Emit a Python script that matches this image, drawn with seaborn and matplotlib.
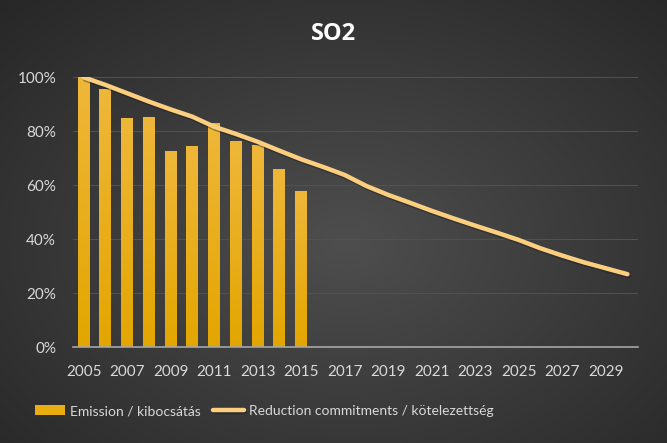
import numpy as np
import pandas as pd
import matplotlib.pyplot as plt
import matplotlib.patheffects as pe
import seaborn as sns

# data
years = [str(y) for y in range(2005, 2031)]
emission = [1.00, 0.956, 0.850, 0.854, 0.728, 0.745, 0.832, 0.765, 0.749, 0.661, 0.578] + [np.nan] * 15
commitment = [1.00, 0.972, 0.941, 0.910, 0.881, 0.854, 0.817, 0.790, 0.761, 0.728, 0.696,
              0.668, 0.638, 0.597, 0.564, 0.535, 0.505, 0.477, 0.450, 0.424, 0.397,
              0.366, 0.339, 0.314, 0.292, 0.270]
tick_years = years[::2][:13]

df = pd.DataFrame({'Year': years, 'Emission': emission, 'Commitment': commitment})

sns.set_theme(style="dark")
plt.rcParams['font.family'] = ['Lato', 'DejaVu Sans']

fig = plt.figure(figsize=(6.67, 4.43), dpi=100)

# dark radial background
bg = fig.add_axes([0, 0, 1, 1], zorder=-10)
yy, xx = np.mgrid[0:1:300j, 0:1:450j]
r = np.sqrt(((xx - 0.52) / 0.75) ** 2 + ((yy - 0.45) / 0.8) ** 2)
bg.imshow(np.clip(r, 0, 1), cmap=sns.blend_palette(['#4e4e4e', '#262626'], as_cmap=True),
          extent=[0, 1, 0, 1], aspect='auto', origin='lower', vmin=0, vmax=1)
bg.axis('off')

ax = fig.add_axes([0.109, 0.2167, 0.848, 0.6088])
ax.set_facecolor('none')

sns.barplot(data=df, x='Year', y='Emission', color='#E9AD12', saturation=1, width=0.55, ax=ax,
            label='Emission / kibocsátás', zorder=2, linewidth=0, edgecolor='none')

# vertical gold gradient on each bar
grad = np.linspace(0, 1, 100).reshape(-1, 1)
bar_cmap = sns.blend_palette(['#E3A600', '#EFB73A'], as_cmap=True)
for p in ax.patches:
    h = p.get_height()
    if np.isnan(h) or h == 0:
        continue
    x0 = p.get_x()
    im = ax.imshow(grad, cmap=bar_cmap, extent=[x0, x0 + p.get_width(), 0, h],
                   aspect='auto', origin='lower', zorder=2.5)
    im.set_clip_path(p)

sns.lineplot(data=df, x='Year', y='Commitment', color='#FCCF80', linewidth=3.2, ax=ax,
             label='Reduction commitments / kötelezettség', zorder=3,
             path_effects=[pe.SimpleLineShadow(offset=(1, -1.5), alpha=0.4), pe.Normal()])
ax.lines[-1].set_solid_capstyle('round')

ax.set_xlim(-0.5, 25.5)
ax.set_ylim(0, 1.0)
ax.set_yticks([0, 0.2, 0.4, 0.6, 0.8, 1.0])
ax.set_yticklabels(['0%', '20%', '40%', '60%', '80%', '100%'])
ax.set_xticks(range(0, 26, 2))
ax.set_xticklabels(tick_years)
ax.tick_params(axis='both', colors='#D9D9D9', labelsize=11, length=0)
ax.tick_params(axis='x', pad=13)
ax.tick_params(axis='y', pad=12)
ax.set_xlabel('')
ax.set_ylabel('')

ax.yaxis.grid(True, color='#525252', linewidth=0.7)
ax.set_axisbelow(True)
for s in ['top', 'right', 'left']:
    ax.spines[s].set_visible(False)
ax.spines['bottom'].set_color('#A6A6A6')
ax.spines['bottom'].set_linewidth(1.2)

fig.text(0.5, 0.923, 'SO2', color='white', fontsize=17, fontweight='bold',
         ha='center', va='center', family=['Open Sans', 'DejaVu Sans'])

handles, labels = ax.get_legend_handles_labels()
order = [labels.index('Emission / kibocsátás'), labels.index('Reduction commitments / kötelezettség')]
ax.legend([handles[i] for i in order], [labels[i] for i in order], loc='center',
          bbox_to_anchor=(0.396, 0.072), bbox_transform=fig.transFigure, ncol=2,
          frameon=False, fontsize=10, labelcolor='#D9D9D9', handlelength=2.2,
          handletextpad=0.35, columnspacing=0.9)

plt.savefig('out.png', dpi=100)
